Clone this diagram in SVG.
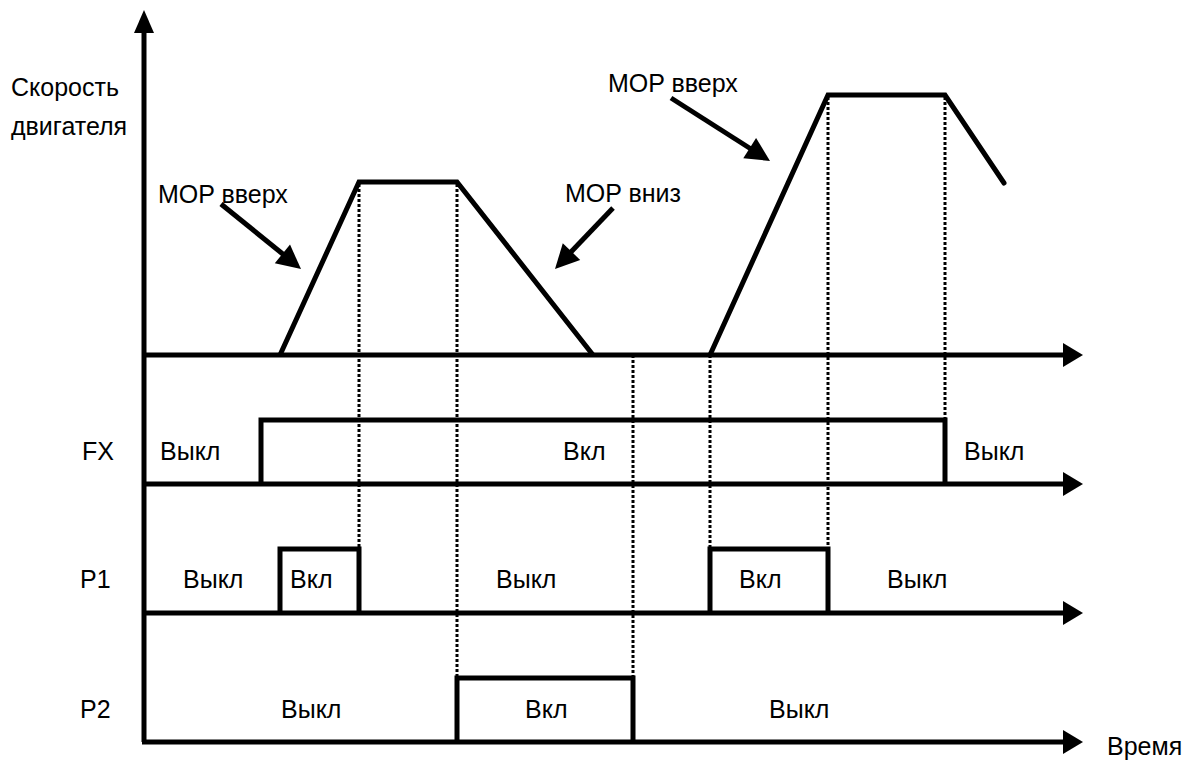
<svg xmlns="http://www.w3.org/2000/svg" width="1190" height="760" viewBox="0 0 1190 760">
<style>
.ax{stroke:#000;stroke-width:5;fill:none}
.sig{stroke:#000;stroke-width:5;fill:none;stroke-linejoin:miter}
.dot{stroke:#000;stroke-width:3;stroke-dasharray:3 2;fill:none}
.ah{fill:#000}
text{font-family:"Liberation Sans",Arial,sans-serif;font-size:25px;fill:#000}
</style>
<rect width="1190" height="760" fill="#fff"/>
<g id="guides">
<line class="dot" x1="359" y1="184" x2="359" y2="549"/>
<line class="dot" x1="457" y1="184" x2="457" y2="678"/>
<line class="dot" x1="633" y1="355" x2="633" y2="678"/>
<line class="dot" x1="710" y1="355" x2="710" y2="549"/>
<line class="dot" x1="828" y1="97" x2="828" y2="549"/>
<line class="dot" x1="945" y1="97" x2="945" y2="420"/>
</g>
<g id="axes">
<line class="ax" x1="144" y1="30" x2="144" y2="742"/>
<polygon class="ah" points="144,10 134,33 154,33"/>
<line class="ax" x1="142" y1="355" x2="1066" y2="355"/>
<polygon class="ah" points="1083,355 1063,343 1063,367"/>
<line class="ax" x1="142" y1="484" x2="1066" y2="484"/>
<polygon class="ah" points="1083,484 1063,472 1063,496"/>
<line class="ax" x1="142" y1="613" x2="1066" y2="613"/>
<polygon class="ah" points="1083,613 1063,601 1063,625"/>
<line class="ax" x1="142" y1="742" x2="1066" y2="742"/>
<polygon class="ah" points="1083,742 1063,730 1063,754"/>
</g>
<g id="speed">
<polyline class="sig" points="280,355 359,182 457,182 593,355"/>
<polyline class="sig" points="710,355 828,95 945,95 1004,183" stroke-linecap="round"/>
</g>
<g id="fx">
<polyline class="sig" points="261,484 261,420 945,420 945,484"/>
</g>
<g id="p1">
<polyline class="sig" points="280,613 280,549 359,549 359,613"/>
<polyline class="sig" points="710,613 710,549 828,549 828,613"/>
</g>
<g id="p2">
<polyline class="sig" points="457,742 457,678 633,678 633,742"/>
</g>
<g id="connectors">
<line class="ax" x1="221" y1="204" x2="284" y2="255"/>
<polygon class="ah" points="301,269 274.8,263.2 290,244.6"/>
<line class="ax" x1="671" y1="98" x2="751" y2="149"/>
<polygon class="ah" points="770,161 743.3,158.2 756.1,138"/>
<line class="ax" x1="613" y1="208" x2="570" y2="253"/>
<polygon class="ah" points="555,269 580.2,259.9 562.8,243.3"/>
</g>
<g id="labels">
<text x="11" y="96">Скорость</text>
<text x="11" y="135">двигателя</text>
<text x="158" y="203">MOP вверх</text>
<text x="608" y="92">MOP вверх</text>
<text x="565" y="202">MOP вниз</text>
<text x="82" y="460">FX</text>
<text x="160" y="460">Выкл</text>
<text x="563" y="460">Вкл</text>
<text x="964" y="460">Выкл</text>
<text x="80" y="588">P1</text>
<text x="183" y="588">Выкл</text>
<text x="290" y="588">Вкл</text>
<text x="496" y="588">Выкл</text>
<text x="739" y="588">Вкл</text>
<text x="887" y="588">Выкл</text>
<text x="80" y="718">P2</text>
<text x="281" y="718">Выкл</text>
<text x="525" y="718">Вкл</text>
<text x="769" y="718">Выкл</text>
<text x="1107" y="755">Время</text>
</g>
</svg>
